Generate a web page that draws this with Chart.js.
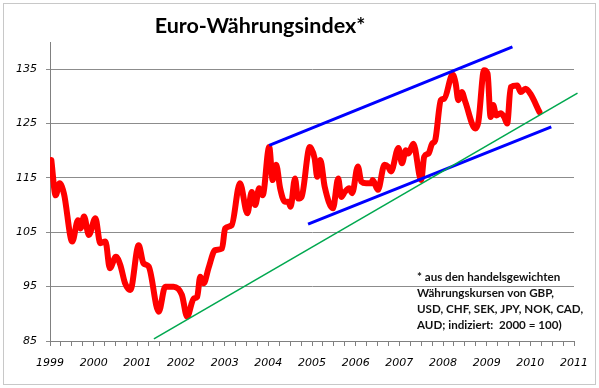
<!DOCTYPE html>
<html><head><meta charset="utf-8">
<script src="https://cdn.jsdelivr.net/npm/chart.js@4/dist/chart.umd.min.js"></script>
<style>html,body{margin:0;padding:0;background:#fff}#wrap{width:599px;height:388px;position:relative}</style>
</head><body><div id="wrap"><canvas id="c" width="599" height="388"></canvas></div>
<script>
const chartTitle = 'Euro-Währungsindex*';
const noteLines = ['* aus den handelsgewichten', 'Währungskursen von GBP,', 'USD, CHF, SEK, JPY, NOK, CAD,', 'AUD; indiziert:  2000 = 100)'];
const yearLabels = [1999, 2000, 2001, 2002, 2003, 2004, 2005, 2006, 2007, 2008, 2009, 2010, 2011];
const yTicks = [85, 95, 105, 115, 125, 135];

const dates = [1999.03, 1999.13, 1999.22, 1999.32, 1999.51, 1999.64, 1999.70, 1999.78, 1999.89,
  2000.04, 2000.15, 2000.27, 2000.37, 2000.51, 2000.61, 2000.72, 2000.84,
  2001.03, 2001.14, 2001.26, 2001.49, 2001.64, 2001.83,
  2002.02, 2002.14, 2002.29, 2002.37, 2002.44, 2002.52, 2002.63, 2002.78, 2002.94,
  2003.01, 2003.16, 2003.35, 2003.52, 2003.62, 2003.70, 2003.79, 2003.87,
  2004.02, 2004.10, 2004.18, 2004.27, 2004.38, 2004.46, 2004.51, 2004.61, 2004.68, 2004.76, 2004.95,
  2005.06, 2005.12, 2005.19, 2005.29, 2005.48, 2005.60, 2005.67, 2005.75, 2005.85, 2005.92,
  2006.05, 2006.13, 2006.24, 2006.36, 2006.39, 2006.51, 2006.66, 2006.74, 2006.81, 2006.98,
  2007.06, 2007.15, 2007.21, 2007.32, 2007.50, 2007.57, 2007.67, 2007.75, 2007.82, 2007.95,
  2008.03, 2008.22, 2008.29, 2008.35, 2008.43, 2008.51, 2008.74, 2008.81, 2008.94,
  2009.02, 2009.09, 2009.15, 2009.22, 2009.32, 2009.40, 2009.47, 2009.55, 2009.70, 2009.78, 2009.89,
  2010.00, 2010.21];
const indexValues = [118.3, 111.8, 114.0, 112.1, 103.3, 107.2, 105.7, 107.9, 104.5,
  107.6, 103.0, 103.3, 98.4, 100.5, 99.0, 95.6, 94.4,
  102.6, 99.3, 98.7, 90.4, 95.0, 95.0,
  93.5, 89.5, 92.8, 93.1, 96.8, 95.6, 98.4, 101.7, 102.0,
  105.7, 106.3, 114.0, 108.5, 112.4, 110.0, 113.1, 111.8,
  120.7, 114.6, 117.4, 113.1, 110.6, 110.6, 109.7, 114.9, 111.2, 111.5, 120.7,
  118.6, 115.2, 118.3, 113.4, 109.4, 114.9, 111.5, 112.4, 113.1, 112.2,
  117.1, 114.3, 114.0, 114.0, 114.6, 112.8, 117.4, 117.1, 116.2, 120.5,
  117.7, 120.1, 119.5, 121.3, 114.6, 118.9, 119.5, 121.3, 121.9, 129.3,
  129.6, 134.0, 132.4, 129.3, 130.8, 129.0, 124.1, 125.3, 134.8,
  134.2, 126.2, 128.4, 126.5, 126.9, 126.2, 125.0, 131.7, 132.0, 130.8, 131.4,
  130.5, 127.1];

const upperChannelX = [2004.02, 2009.59];
const upperChannelY = [121.0, 139.1];
const lowerChannelX = [2004.91, 2010.48];
const lowerChannelY = [106.5, 124.4];
const trendX = [2001.38, 2011.08];
const trendY = [85.4, 130.6];

const pts = (xs, ys) => xs.map((x, i) => ({x, y: ys[i]}));

const decor = {
  id: 'decor',
  beforeDraw(chart) {
    const c = chart.ctx;
    c.save();
    c.fillStyle = '#ffffff';
    c.fillRect(0, 0, chart.width, chart.height);
    c.strokeStyle = '#c8c8c8';
    c.lineWidth = 1;
    c.strokeRect(3.5, 3.5, 592, 381);
    c.restore();
  },
  afterDraw(chart) {
    const c = chart.ctx;
    c.save();
    c.fillStyle = '#000';
    c.font = 'bold 21.5px Lato';
    c.textAlign = 'center';
    c.textBaseline = 'alphabetic';
    c.fillText(chartTitle, 260, 33);
    c.font = 'bold 11.6px Lato';
    c.textAlign = 'left';
    c.fillStyle = '#111';
    noteLines.forEach((t, i) => c.fillText(t, 417, 281 + i * 16));
    c.restore();
  }
};

const tickFont = {family: 'DejaVu Sans', style: 'italic', size: 11};

new Chart(document.getElementById('c'), {
  type: 'line',
  data: {
    datasets: [
      {data: pts(trendX, trendY), borderColor: '#00a84f', borderWidth: 1.6, pointRadius: 0, clip: false, tension: 0},
      {data: pts(upperChannelX, upperChannelY), borderColor: '#0000ff', borderWidth: 3, pointRadius: 0, tension: 0},
      {data: pts(lowerChannelX, lowerChannelY), borderColor: '#0000ff', borderWidth: 3, pointRadius: 0, tension: 0},
      {data: pts(dates, indexValues), borderColor: '#ff0000', borderWidth: 6, pointRadius: 0,
       cubicInterpolationMode: 'monotone', borderCapStyle: 'round', borderJoinStyle: 'round'}
    ]
  },
  options: {
    responsive: false, animation: false, devicePixelRatio: 1,
    layout: {padding: {top: 42, right: 22, bottom: 0, left: 0}},
    plugins: {legend: {display: false}, tooltip: {enabled: false}, title: {display: false}},
    scales: {
      x: {
        type: 'linear', min: yearLabels[0], max: yearLabels[yearLabels.length - 1],
        afterBuildTicks: s => {
          const t = [];
          for (let i = 0; i < yearLabels.length - 1; i++) for (let q = 0; q < 4; q++) t.push({value: yearLabels[i] + q / 4});
          t.push({value: yearLabels[yearLabels.length - 1]});
          s.ticks = t;
        },
        afterFit: s => { s.height = 47; },
        ticks: {autoSkip: false, maxRotation: 0, padding: 11, font: tickFont, color: '#000',
                callback: v => yearLabels.includes(v) ? String(v) : ''},
        grid: {drawOnChartArea: false, tickLength: 5, color: '#808080'},
        border: {color: '#808080'}
      },
      y: {
        min: 85, max: 140,
        afterBuildTicks: s => { s.ticks = yTicks.map(v => ({value: v})); },
        afterFit: s => { s.width = 50; },
        ticks: {padding: 9, font: tickFont, color: '#000', callback: v => String(v)},
        grid: {color: '#8c8c8c', tickLength: 4},
        border: {color: '#808080'}
      }
    }
  },
  plugins: [decor]
});
</script>
</body></html>
